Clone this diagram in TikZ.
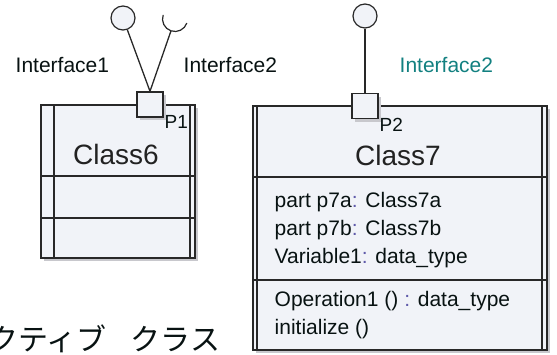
\documentclass[tikz,border=0pt]{standalone}
\usepackage{fontspec}
\setmainfont{Liberation Sans}
\newfontfamily\jpfont{Noto Sans CJK JP}
\usetikzlibrary{shadows}

\definecolor{linegray}{RGB}{40,40,40}
\definecolor{boxfill}{RGB}{241,243,248}
\definecolor{shadegray}{RGB}{200,200,205}
\definecolor{inktext}{RGB}{8,18,18}
\definecolor{titletext}{RGB}{34,34,34}
\definecolor{tealtext}{RGB}{18,128,128}
\definecolor{colonblue}{RGB}{95,90,170}

\begin{document}
\begin{tikzpicture}[x=1pt,y=-1pt,line width=1.4pt,
    txt/.style={inner sep=0pt, text=inktext, font=\fontsize{21}{25}\selectfont},
    title/.style={inner sep=0pt, text=titletext, font=\fontsize{28}{32}\selectfont},
    portbox/.style={draw=linegray, fill=boxfill, minimum width=26pt, minimum height=25pt, inner sep=0pt,
        drop shadow={shadow xshift=3pt, shadow yshift=-3pt, fill=shadegray, opacity=1}},
    ball/.style={circle, draw=linegray, fill=boxfill, line width=1.2pt, minimum size=24pt, inner sep=0pt},
    portlbl/.style={inner sep=0pt, text=inktext, font=\fontsize{19}{22}\selectfont}]

    \useasboundingbox (0,0) rectangle (557,354);

    \coordinate (A1) at (41, 105);
    \coordinate (A2) at (195, 258);
    \coordinate (B1) at (253, 106);
    \coordinate (B2) at (547, 350);

%Class6 box
    \fill[shadegray] (44, 108) rectangle (198, 261); % shadow
    \filldraw[fill=boxfill, draw=linegray] (A1) rectangle (A2);
    \draw[linegray] (54, 105) -- (54, 258); % left band
    \draw[linegray] (190, 105) -- (190, 258); % right band
    \draw[linegray] (41, 176) -- (195, 176);
    \draw[linegray] (41, 218) -- (195, 218);
    \node[title, anchor=base] (c6) at (116, 164) {Class6};

%Class7 box
    \fill[shadegray] (256, 109) rectangle (550, 353); % shadow
    \filldraw[fill=boxfill, draw=linegray] (B1) rectangle (B2);
    \draw[linegray] (257, 106) -- (257, 350); % left band
    \draw[linegray] (542, 106) -- (542, 350); % right band
    \draw[linegray] (253, 177) -- (547, 177);
    \draw[linegray] (253, 280) -- (547, 280);
    \node[title, anchor=base] (c7) at (398, 165) {Class7};

    \node[txt, anchor=base west] (att1) at (274, 207) {part p7a\textcolor{colonblue}{:} Class7a};
    \node[txt, anchor=base west] (att2) at (274, 235) {part p7b\textcolor{colonblue}{:} Class7b};
    \node[txt, anchor=base west] (att3) at (274, 263) {Variable1\textcolor{colonblue}{:} data\_type};
    \node[txt, anchor=base west] (op1) at (274, 306) {Operation1 () \textcolor{colonblue}{:} data\_type};
    \node[txt, anchor=base west] (op2) at (274, 334) {initialize ()};

%ports and interfaces
    \node[ball] (if1) at (123, 18) {};
    \coordinate (sockc) at (175, 19);
    \coordinate (sock) at (171, 30.8);
    \draw[linegray, line width=1.2pt] (sockc) ++(199:12.5) arc[start angle=199, end angle=19, radius=12.5]; % socket
    \node[ball] (if3) at (365, 16) {};

    \node[portbox] (p1) at (150, 104.5) {};
    \node[portbox] (p2) at (365, 106) {};
    \draw[linegray, line width=1.3pt] (p1.north) -- (if1);
    \draw[linegray, line width=1.3pt] (p1.north) -- (sock);
    \draw[linegray, line width=1.3pt] (p2.north) -- (if3);

    \node[portlbl, anchor=base west] (p1lbl) at (164, 128) {P1};
    \node[portlbl, anchor=base west] (p2lbl) at (379, 131) {P2};

    \node[txt, anchor=base west] (if1lbl) at (15, 72.5) {Interface1};
    \node[txt, anchor=base west] (if2lbl) at (183, 72.5) {Interface2};
    \node[txt, anchor=base west, text=tealtext] (if3lbl) at (399, 72.5) {Interface2};

    \node[anchor=base east, inner sep=0pt, text=inktext, font=\jpfont\fontsize{30}{34}\selectfont] (stereo) at (221, 350) {アクティブ\hspace{0.8em}クラス};

\end{tikzpicture}
\end{document}
